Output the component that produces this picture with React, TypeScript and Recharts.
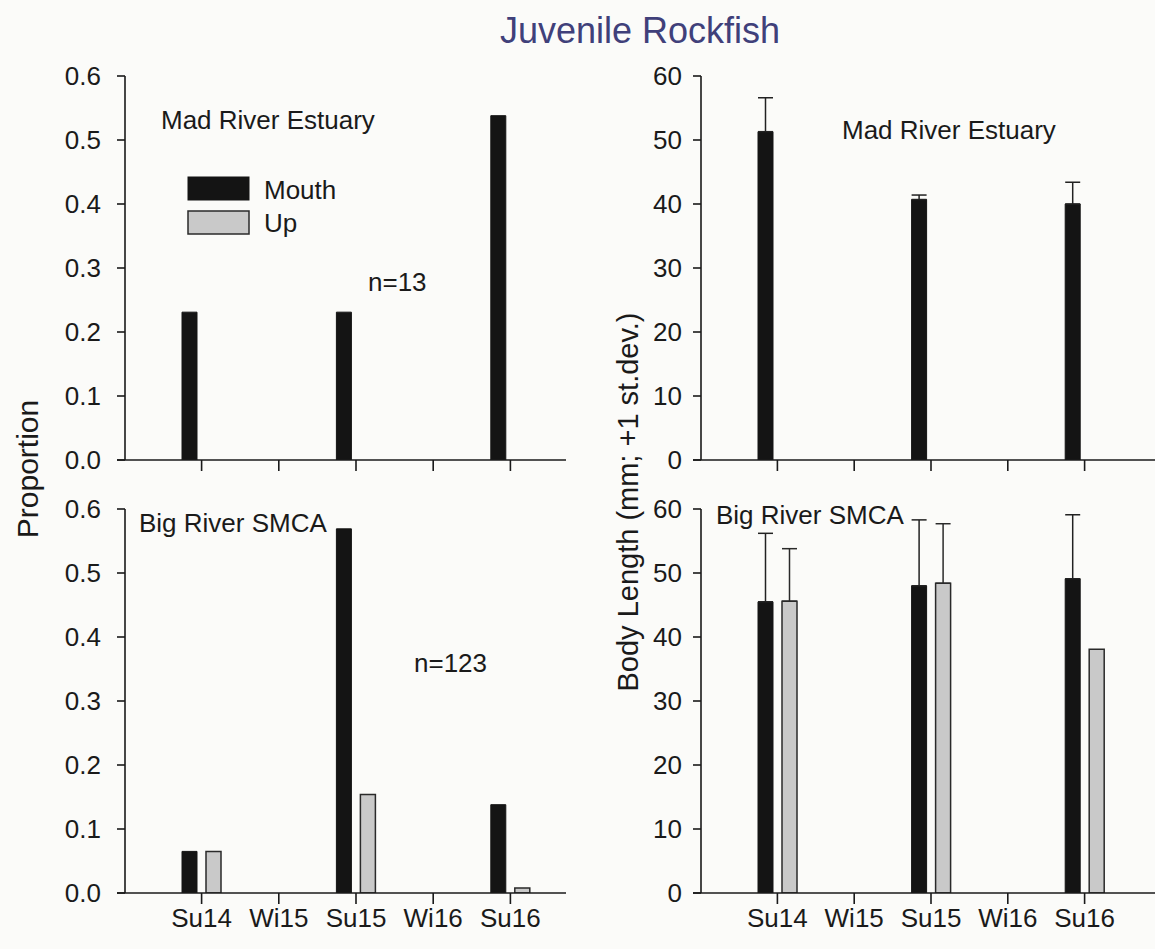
import React from 'react';
import { BarChart, Bar, XAxis, YAxis, ErrorBar } from 'recharts';

// Sampling seasons along the x axis
const seasons = ['Su14', 'Wi15', 'Su15', 'Wi16', 'Su16'];

// Axis ticks
const proportionTicks = [0, 0.1, 0.2, 0.3, 0.4, 0.5, 0.6];
const lengthTicks = [0, 10, 20, 30, 40, 50, 60];

// Proportion of catch by season (Mad River Estuary, n=13)
const madProportionMouth = [0.231, null, 0.231, null, 0.538];
const madProportionUp = [null, null, null, null, null];

// Proportion of catch by season (Big River SMCA, n=123)
const bigProportionMouth = [0.065, null, 0.569, null, 0.138];
const bigProportionUp = [0.065, null, 0.154, null, 0.008];

// Mean body length (mm) and standard deviation, Mad River Estuary
const madLengthMouth = [51.3, null, 40.7, null, 40.0];
const madLengthMouthSd = [5.3, null, 0.7, null, 3.4];
const madLengthUp = [null, null, null, null, null];
const madLengthUpSd = [null, null, null, null, null];

// Mean body length (mm) and standard deviation, Big River SMCA
const bigLengthMouth = [45.5, null, 48.0, null, 49.1];
const bigLengthMouthSd = [10.7, null, 10.3, null, 10.0];
const bigLengthUp = [45.6, null, 48.4, null, 38.1];
const bigLengthUpSd = [8.2, null, 9.3, null, null];

const INK = '#1a1a1a';
const FONT = "'Liberation Sans', Arial, Helvetica, sans-serif";
const MOUTH_FILL = '#141414';
const UP_FILL = '#c9c9c9';

type Num = number | null;

function buildRows(mouth: Num[], up: Num[], mouthSd?: Num[], upSd?: Num[]) {
  return seasons.map((season, i) => ({
    season,
    mouth: mouth[i],
    up: up[i],
    // one-sided (upward) error bars: [below, above]
    mouthErr: mouthSd && mouthSd[i] != null ? [0, mouthSd[i] as number] : undefined,
    upErr: upSd && upSd[i] != null ? [0, upSd[i] as number] : undefined,
  }));
}

const madProportionRows = buildRows(madProportionMouth, madProportionUp);
const bigProportionRows = buildRows(bigProportionMouth, bigProportionUp);
const madLengthRows = buildRows(madLengthMouth, madLengthUp, madLengthMouthSd, madLengthUpSd);
const bigLengthRows = buildRows(bigLengthMouth, bigLengthUp, bigLengthMouthSd, bigLengthUpSd);

type PanelProps = {
  rows: ReturnType<typeof buildRows>;
  left: number;
  top: number;
  width: number;
  height: number;
  marginTop: number;
  marginRight: number;
  yWidth: number;
  yTickMargin: number;
  xHeight: number;
  padRight: number;
  domain: [number, number];
  ticks: number[];
  fmt: (v: number) => string;
  showXLabels: boolean;
};

const Y_TICK = 8;
const BAR = 15;

function Panel(p: PanelProps) {
  const lineStyle = { stroke: INK, strokeWidth: 1.6 };
  // y axis sits a tick-length inside the plot so the x baseline runs past it
  const shifted = { ...lineStyle, transform: `translate(${Y_TICK},0)` };
  return (
    <div style={{ position: 'absolute', left: p.left, top: p.top }}>
      <BarChart
        width={p.width}
        height={p.height}
        data={p.rows}
        margin={{ top: p.marginTop, right: p.marginRight, bottom: 0, left: 0 }}
        barSize={BAR}
        barGap={9}
      >
        <XAxis
          dataKey="season"
          type="category"
          interval={0}
          padding={{ left: 46, right: p.padRight }}
          height={p.xHeight}
          tickSize={11}
          tickMargin={5}
          axisLine={lineStyle}
          tickLine={lineStyle}
          tick={{ fill: INK, fontSize: 26, fontFamily: FONT }}
          tickFormatter={p.showXLabels ? (v: string) => v : () => ''}
        />
        <YAxis
          type="number"
          domain={p.domain}
          ticks={p.ticks}
          interval={0}
          allowDataOverflow
          width={p.yWidth}
          tickSize={Y_TICK}
          tickMargin={p.yTickMargin}
          tickFormatter={p.fmt}
          axisLine={shifted}
          tickLine={shifted}
          tick={{ fill: INK, fontSize: 26, fontFamily: FONT }}
        />
        <Bar dataKey="mouth" fill={MOUTH_FILL} stroke={MOUTH_FILL} strokeWidth={1} isAnimationActive={false}>
          <ErrorBar dataKey="mouthErr" width={BAR / 2} stroke="#222" strokeWidth={1.5} isAnimationActive={false} />
        </Bar>
        <Bar dataKey="up" fill={UP_FILL} stroke="#2a2a2a" strokeWidth={1.5} isAnimationActive={false}>
          <ErrorBar dataKey="upErr" width={BAR / 2} stroke="#2a2a2a" strokeWidth={1.5} isAnimationActive={false} />
        </Bar>
      </BarChart>
    </div>
  );
}

const fmtProportion = (v: number) => v.toFixed(1);
const fmtLength = (v: number) => String(v);

const textStyle = { fontFamily: FONT, fill: INK } as const;

export default function App() {
  return (
    <div
      style={{
        position: 'absolute',
        left: 0,
        top: 0,
        width: 1155,
        height: 949,
        background: '#fbfbf9',
        overflow: 'hidden',
      }}
    >
      <Panel
        rows={madProportionRows}
        left={0}
        top={0}
        width={580}
        height={480}
        marginTop={76}
        marginRight={14}
        yWidth={117}
        yTickMargin={8}
        xHeight={20}
        padRight={17}
        domain={[0, 0.6]}
        ticks={proportionTicks}
        fmt={fmtProportion}
        showXLabels={false}
      />
      <Panel
        rows={madLengthRows}
        left={580}
        top={0}
        width={575}
        height={480}
        marginTop={76}
        marginRight={0}
        yWidth={113}
        yTickMargin={3}
        xHeight={20}
        padRight={32}
        domain={[0, 60]}
        ticks={lengthTicks}
        fmt={fmtLength}
        showXLabels={false}
      />
      <Panel
        rows={bigProportionRows}
        left={0}
        top={480}
        width={580}
        height={469}
        marginTop={29}
        marginRight={14}
        yWidth={117}
        yTickMargin={8}
        xHeight={56}
        padRight={17}
        domain={[0, 0.6]}
        ticks={proportionTicks}
        fmt={fmtProportion}
        showXLabels={true}
      />
      <Panel
        rows={bigLengthRows}
        left={580}
        top={480}
        width={575}
        height={469}
        marginTop={29}
        marginRight={0}
        yWidth={113}
        yTickMargin={3}
        xHeight={56}
        padRight={32}
        domain={[0, 60]}
        ticks={lengthTicks}
        fmt={fmtLength}
        showXLabels={true}
      />

      <svg
        width={1155}
        height={949}
        style={{ position: 'absolute', left: 0, top: 0, pointerEvents: 'none' }}
      >
        <text x={640} y={43} textAnchor="middle" fontSize={36} fontFamily={FONT} fill="#40407a">
          Juvenile Rockfish
        </text>

        <text
          transform="translate(27,469) rotate(-90)"
          textAnchor="middle"
          dominantBaseline="central"
          fontSize={30}
          {...textStyle}
        >
          Proportion
        </text>
        <text
          transform="translate(628,502) rotate(-90)"
          textAnchor="middle"
          dominantBaseline="central"
          fontSize={29}
          {...textStyle}
        >
          Body Length (mm; +1 st.dev.)
        </text>

        {/* Mad River Estuary, proportion */}
        <text x={161} y={129} fontSize={26} {...textStyle}>Mad River Estuary</text>
        <rect x={188} y={177} width={61} height={23} fill={MOUTH_FILL} stroke={MOUTH_FILL} strokeWidth={1} />
        <text x={264} y={199} fontSize={26} {...textStyle}>Mouth</text>
        <rect x={188} y={211} width={61} height={23} fill={UP_FILL} stroke="#2a2a2a" strokeWidth={1.5} />
        <text x={264} y={232} fontSize={26} {...textStyle}>Up</text>
        <text x={368} y={291} fontSize={26} {...textStyle}>n=13</text>

        {/* Mad River Estuary, body length */}
        <text x={842} y={139} fontSize={26} {...textStyle}>Mad River Estuary</text>

        {/* Big River SMCA, proportion */}
        <text x={139} y={532} fontSize={26} {...textStyle}>Big River SMCA</text>
        <text x={414} y={672} fontSize={26} {...textStyle}>n=123</text>

        {/* Big River SMCA, body length */}
        <text x={716} y={524} fontSize={26} {...textStyle}>Big River SMCA</text>
      </svg>
    </div>
  );
}
